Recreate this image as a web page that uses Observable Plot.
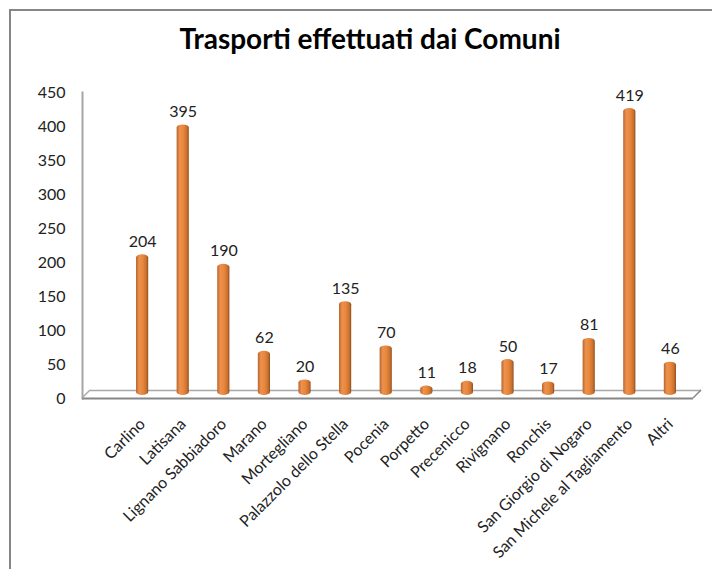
<!DOCTYPE html>
<html>
<head>
<meta charset="utf-8">
<script src="https://cdn.jsdelivr.net/npm/d3@7"></script>
<script src="https://cdn.jsdelivr.net/npm/@observablehq/plot@0.6"></script>
<style>
  html, body { margin: 0; padding: 0; background: #fff; overflow: hidden; }
  #wrap { position: relative; width: 712px; height: 569px; overflow: hidden; font-family: Lato, "Open Sans", sans-serif; }
  #border { position: absolute; left: 9px; top: 9px; width: 900px; height: 900px; border-left: 2px solid #868686; border-top: 2px solid #868686; }
  #title { position: absolute; left: 0; width: 740px; top: 21px; text-align: center; font-weight: bold; font-size: 28px; color: #000; font-family: Lato, sans-serif; }
  #chart { position: absolute; left: 0; top: 0; }
</style>
</head>
<body>
<div id="wrap">
  <div id="border"></div>
  <div id="title">Trasporti effettuati dai Comuni</div>
  <div id="chart"></div>
</div>
<script>
const comuni = ["Carlino", "Latisana", "Lignano Sabbiadoro", "Marano", "Mortegliano", "Palazzolo dello Stella", "Pocenia", "Porpetto", "Precenicco", "Rivignano", "Ronchis", "San Giorgio di Nogaro", "San Michele al Tagliamento", "Altri"];
const trasporti = [204, 395, 190, 62, 20, 135, 70, 11, 18, 50, 17, 81, 419, 46];
const yTicks = [0, 50, 100, 150, 200, 250, 300, 350, 400, 450];

const data = comuni.map((c, i) => ({comune: c, valore: trasporti[i]}));

const chart = Plot.plot({
  width: 712,
  height: 569,
  marginLeft: 82,
  marginRight: 19,
  marginTop: 92,
  marginBottom: 171,
  style: {fontFamily: "Lato, 'Open Sans', sans-serif", fontSize: "16px", color: "#222", background: "transparent"},
  x: {domain: comuni, range: [107.6, 704.4], padding: 0.7, round: false},
  y: {domain: [0, 450]},
  marks: [
    Plot.frame({anchor: "left", stroke: "#a6a6a6", strokeWidth: 2}),
    Plot.ruleY([0], {dx: 8, dy: -8, stroke: "#a8a8a8", strokeWidth: 1.5}),
    Plot.ruleY([0], {stroke: "#868686", strokeWidth: 2}),
    Plot.barY(data, {x: "comune", y: "valore", fill: "url(#cyl)", rx: 6, ry: 3, insetTop: -5, insetBottom: 3}),
    Plot.text(data, {x: "comune", y: "valore", text: d => String(d.valore), dy: -13, lineAnchor: "bottom", fontSize: 16, fill: "#222"}),
    Plot.axisY({ticks: yTicks, tickSize: 0, tickPadding: 17, label: null, fontSize: 16}),
    Plot.axisX({tickRotate: -45, tickSize: 0, tickPadding: 23, label: null, fontSize: 16})
  ]
});

const svg = d3.select(chart);
const defs = svg.insert("defs", ":first-child");
const g = defs.append("linearGradient").attr("id", "cyl").attr("x1", "0").attr("x2", "1").attr("y1", "0").attr("y2", "0");
g.append("stop").attr("offset", "0%").attr("stop-color", "#b8652a");
g.append("stop").attr("offset", "25%").attr("stop-color", "#ec9150");
g.append("stop").attr("offset", "55%").attr("stop-color", "#e8883c");
g.append("stop").attr("offset", "85%").attr("stop-color", "#c8702e");
g.append("stop").attr("offset", "100%").attr("stop-color", "#8c4a1c");

// 3D floor side edges
const ys = chart.scale("y");
const y0 = ys.apply(0);
const left = 82, right = 712 - 19;
svg.append("line").attr("x1", left).attr("y1", y0).attr("x2", left + 8).attr("y2", y0 - 8).attr("stroke", "#a8a8a8").attr("stroke-width", 1.5);
svg.append("line").attr("x1", right).attr("y1", y0).attr("x2", right + 8).attr("y2", y0 - 8).attr("stroke", "#868686").attr("stroke-width", 1.5);

document.getElementById("chart").appendChild(chart);
</script>
</body>
</html>
